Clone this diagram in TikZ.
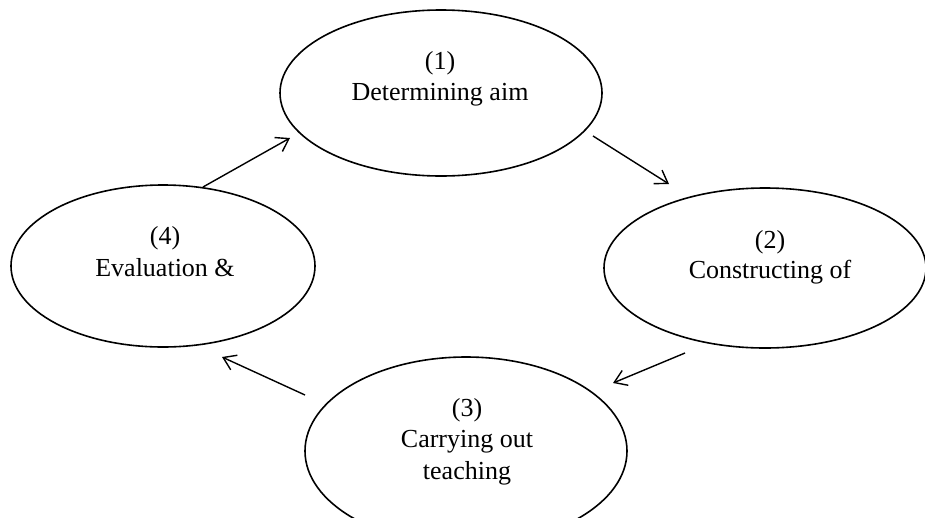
\documentclass[tikz,border=0pt]{standalone}
\usepackage{fontspec}
\setmainfont{Liberation Serif}
\usetikzlibrary{shapes.geometric,arrows.meta}
\begin{document}
\begin{tikzpicture}[x=1pt,y=-1pt,
  stage/.style={draw=black, line width=1.6pt, ellipse, inner sep=0pt},
  lbl/.style={font=\fontsize{26}{32}\selectfont, align=center, inner sep=0pt, anchor=center},
  flow/.style={draw=black, line width=1.4pt, -{Straight Barb[length=12pt,width=16pt,line width=1.4pt]}}]
\useasboundingbox (0,0) rectangle (925,517);
\fill[white] (0,0) rectangle (925,517);
% ellipses
\node[stage, minimum width=322pt, minimum height=166pt] (e1) at (441,93) {};
\node[stage, minimum width=322pt, minimum height=160pt] (e2) at (765,268) {};
\node[stage, minimum width=322pt, minimum height=188pt] (e3) at (466,451) {};
\node[stage, minimum width=304pt, minimum height=162pt] (e4) at (163,266) {};
% texts
\node[lbl] (t1a) at (440,63) {(1)};
\node[lbl] (t1b) at (440,95) {Determining aim};
\node[lbl] (t2a) at (770,242) {(2)};
\node[lbl] (t2b) at (770,272) {Constructing of};
\node[lbl] (t3a) at (467,410) {(3)};
\node[lbl] (t3b) at (467,442) {Carrying out};
\node[lbl] (t3c) at (467,473) {teaching};
\node[lbl] (t4a) at (165,238) {(4)};
\node[lbl] (t4b) at (165,268) {Evaluation \&};
% connector end points
\coordinate (a41s) at (203,187);
\coordinate (a41e) at (290,138);
\coordinate (a12s) at (593,136);
\coordinate (a12e) at (669,184);
\coordinate (a23s) at (685,353);
\coordinate (a23e) at (613,383);
\coordinate (a34s) at (305,395);
\coordinate (a34e) at (222,357);
\draw[flow] (a41s) -- (a41e);
\draw[flow] (a12s) -- (a12e);
\draw[flow] (a23s) -- (a23e);
\draw[flow] (a34s) -- (a34e);
\end{tikzpicture}
\end{document}
